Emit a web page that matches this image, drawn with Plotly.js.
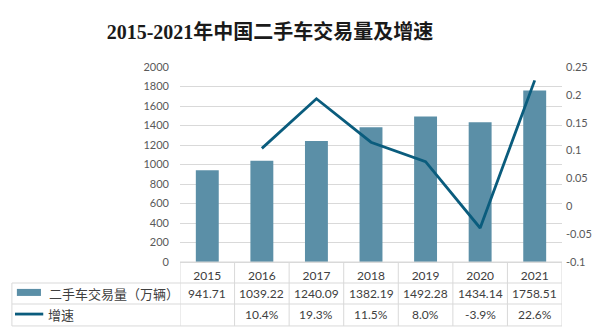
<!DOCTYPE html>
<html>
<head>
<meta charset="utf-8">
<script src="https://cdn.plot.ly/plotly-3.0.1.min.js"></script>
<style>html,body{margin:0;padding:0;background:#fff}#chart{width:600px;height:333px}</style>
</head>
<body>
<div id="chart"></div>
<script>
var years = ['2015','2016','2017','2018','2019','2020','2021'];
var volume = [941.71, 1039.22, 1240.09, 1382.19, 1492.28, 1434.14, 1758.51];
var growth = [null, 0.104, 0.193, 0.115, 0.080, -0.039, 0.226];
var volumeName = '二手车交易量（万辆）';
var growthName = '增速';
var leftTicks = [0,200,400,600,800,1000,1200,1400,1600,1800,2000];
var rightTicks = [-0.1,-0.05,0,0.05,0.1,0.15,0.2,0.25];
var rightTickText = ['-0.1','-0.05','0','0.05','0.1','0.15','0.2','0.25'];

var barColor = '#5b8fa7';
var lineColor = '#0a5c7d';
var gridColor = '#d9d9d9';
var textColor = '#595959';
var tf = 'Lato, "Noto Sans CJK SC", sans-serif';

var traces = [
  {type:'bar', x: years, y: volume, marker:{color: barColor}, width: 0.42, name: volumeName, hoverinfo:'skip'},
  {type:'scatter', mode:'lines', x: years, y: growth, yaxis:'y2', line:{color: lineColor, width: 2.8}, name: growthName, connectgaps:false, hoverinfo:'skip'}
];

// table geometry (paper coords)
var rowY = [0, -0.1077, -0.2154, -0.328];
var leftX = -0.44;
var shapes = [];
shapes.push({type:'line', xref:'paper', yref:'paper', x0:0, x1:1, y0:rowY[0], y1:rowY[0], line:{color:gridColor, width:1}});
for (var r = 1; r < 4; r++) {
  shapes.push({type:'line', xref:'paper', yref:'paper', x0:leftX, x1:1, y0:rowY[r], y1:rowY[r], line:{color:gridColor, width:1}});
}
for (var i = 0; i <= years.length; i++) {
  shapes.push({type:'line', xref:'x', yref:'paper', x0:i-0.5, x1:i-0.5, y0:rowY[0], y1:rowY[3], line:{color:gridColor, width:1}});
}
shapes.push({type:'line', xref:'paper', yref:'paper', x0:leftX, x1:leftX, y0:rowY[1], y1:rowY[3], line:{color:gridColor, width:1}});
// legend keys
shapes.push({type:'rect', xref:'paper', yref:'paper', x0:-0.427, x1:-0.364, y0:-0.138, y1:-0.174, fillcolor:barColor, line:{width:0}});
shapes.push({type:'line', xref:'paper', yref:'paper', x0:-0.432, x1:-0.358, y0:-0.267, y1:-0.267, line:{color:lineColor, width:2.8}});

var annotations = [];
var yMid1 = (rowY[1]+rowY[2])/2, yMid2 = (rowY[2]+rowY[3])/2;
years.forEach(function(yr, i){
  annotations.push({xref:'x', yref:'paper', x:i, y:yMid1, text: volume[i].toFixed(2), showarrow:false, font:{family:tf, size:12, color:'#404040'}, xanchor:'center', yanchor:'middle'});
  if (growth[i] !== null) {
    annotations.push({xref:'x', yref:'paper', x:i, y:yMid2, text: (growth[i]*100).toFixed(1)+'%', showarrow:false, font:{family:tf, size:12, color:'#404040'}, xanchor:'center', yanchor:'middle'});
  }
});
annotations.push({xref:'paper', yref:'paper', x:-0.348, y:yMid1, text: volumeName, showarrow:false, font:{family:'"Noto Sans CJK SC", sans-serif', size:13, color:'#404040'}, xanchor:'left', yanchor:'middle'});
annotations.push({xref:'paper', yref:'paper', x:-0.352, y:yMid2, text: growthName, showarrow:false, font:{family:'"Noto Sans CJK SC", sans-serif', size:13, color:'#404040'}, xanchor:'left', yanchor:'middle'});

var layout = {
  width:600, height:333,
  margin:{l:180, r:38, t:67, b:71},
  paper_bgcolor:'#fff', plot_bgcolor:'#fff',
  showlegend:false, hovermode:false,
  title:{text:'2015-2021年中国二手车交易量及增速', x:0.45, xanchor:'center', y:0.904, yanchor:'middle',
         font:{family:'"Liberation Serif", "Noto Sans CJK SC", serif', size:20, color:'#1a1a1a', weight:'bold'}},
  xaxis:{type:'category', range:[-0.5, 6.5], showgrid:false, showline:true, linecolor:gridColor, linewidth:1,
         ticks:'', tickfont:{family:tf, size:12, color:'#404040'}, ticklabelstandoff:3, zeroline:false},
  yaxis:{range:[0,2000], tickvals:leftTicks, showgrid:true, gridcolor:gridColor, gridwidth:1, zeroline:false,
         showline:false, ticks:'', ticklabelstandoff:10, tickfont:{family:tf, size:11, color:textColor}},
  yaxis2:{overlaying:'y', side:'right', range:[-0.1,0.25], tickvals:rightTicks, ticktext:rightTickText,
          showgrid:false, zeroline:false, showline:false, ticks:'', ticklabelstandoff:3,
          tickfont:{family:tf, size:11, color:textColor}},
  shapes: shapes,
  annotations: annotations
};
Plotly.newPlot('chart', traces, layout, {staticPlot:true, displayModeBar:false});
</script>
</body>
</html>
